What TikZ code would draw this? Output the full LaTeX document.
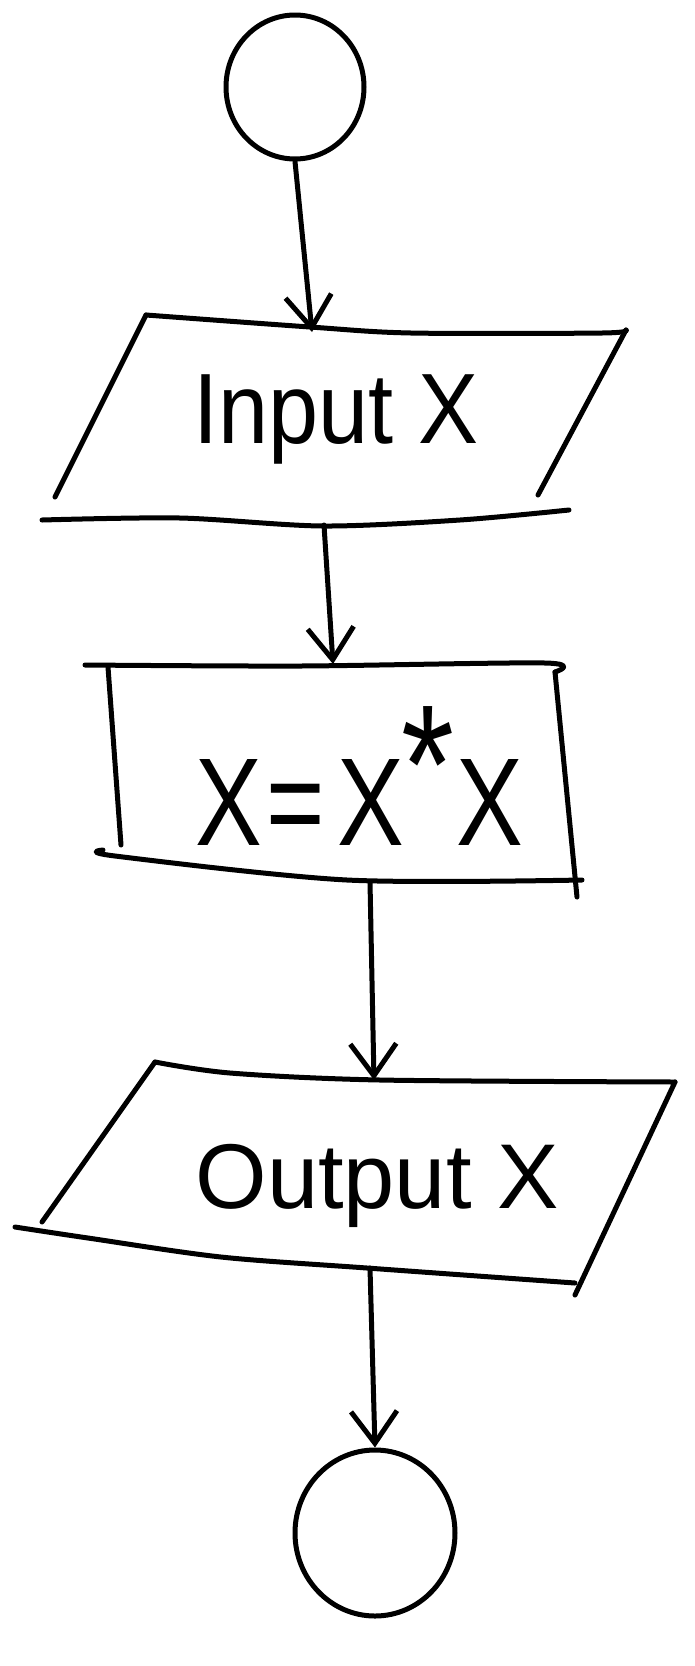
\documentclass[tikz,border=0pt]{standalone}
\usepackage{fontspec}
\setmainfont{Liberation Sans}
\usetikzlibrary{shapes.geometric,arrows.meta}
\begin{document}
\begin{tikzpicture}[x=1pt,y=-1pt,
  pen/.style={line width=5pt, line cap=round, line join=round},
  arr/.style={pen, -{Straight Barb[length=32pt,width=46pt,line width=5pt]}},
  term/.style={pen, draw, ellipse, inner sep=0pt},
  lbl/.style={inner sep=0pt, anchor=base}]
\useasboundingbox (0,0) rectangle (694,1666);
\fill[white] (0,0) rectangle (694,1666);

% start terminal
\node[term, minimum width=138pt, minimum height=144pt] (start) at (295,87) {};

% input parallelogram
\draw[pen] plot[smooth] coordinates {(146,315) (310,327) (411,333) (602,333) (626,330)};
\draw[pen] (626,330) -- (538,495);
\draw[pen] (146,315) -- (55,497);
\draw[pen] plot[smooth] coordinates {(42,520) (180,518) (323,526) (460,520) (569,510)};
\coordinate (inT) at (312,332);
\coordinate (inB) at (324,525);
\node[lbl] (inlbl) at (336,443) {\fontsize{100}{110}\selectfont\scalebox{0.9}[1]{Input X}};

% process box
\draw[pen] plot[smooth] coordinates {(85,665) (300,666) (545,663) (555,672)};
\draw[pen] (555,672) -- (577,897);
\draw[pen] (108,667) -- (121,845);
\draw[pen] plot[smooth] coordinates {(103,850) (115,856) (347,880) (582,880)};
\coordinate (prT) at (333,664);
\coordinate (prB) at (370,882);
\node[lbl] (prlbl) at (359,845) {\fontsize{125}{130}\selectfont\scalebox{0.8}[1]{X\hspace{6pt}=\hspace{16pt}X\hspace{-4pt}\raisebox{22pt}{\fontsize{170}{170}\selectfont *}\hspace{2pt}X}};

% output parallelogram
\draw[pen] plot[smooth] coordinates {(155,1062) (230,1073) (380,1080) (675,1082)};
\draw[pen] (675,1082) -- (575,1295);
\draw[pen] (155,1062) -- (42,1222);
\draw[pen] plot[smooth] coordinates {(15,1227) (88,1238) (221,1257) (367,1268) (575,1283)};
\coordinate (outT) at (374,1080);
\coordinate (outB) at (370,1268);
\node[lbl] (outlbl) at (377,1208) {\fontsize{92}{100}\selectfont Output X};

% end terminal
\node[term, minimum width=160pt, minimum height=166pt] (stop) at (375,1533) {};

% connectors
\draw[arr] (start.south) -- (inT);
\draw[arr] (inB) -- (prT);
\draw[arr] (prB) -- (outT);
\draw[arr] (outB) -- (stop.north);
\end{tikzpicture}
\end{document}
